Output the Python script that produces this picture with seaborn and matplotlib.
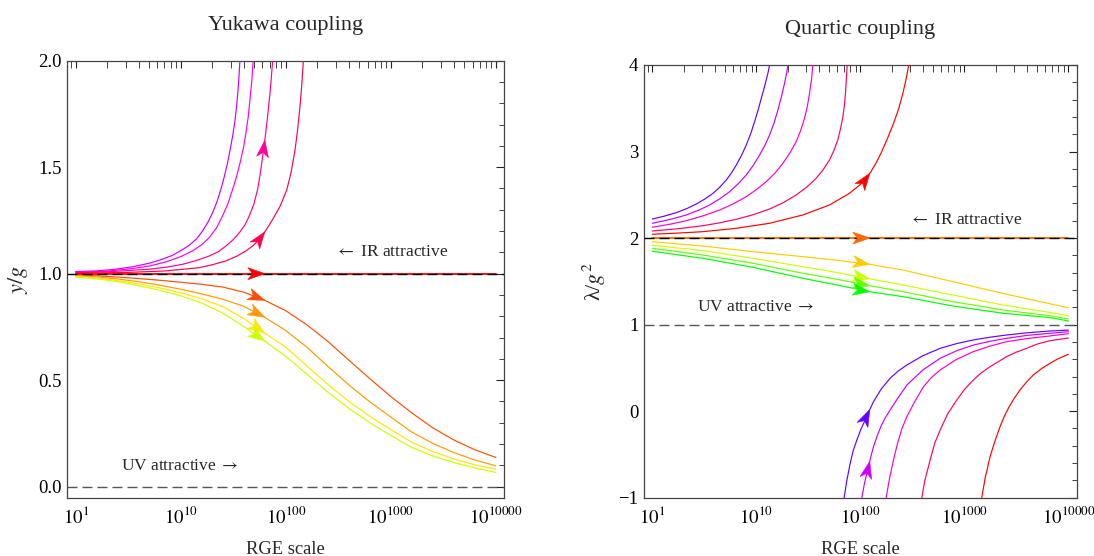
import numpy as np
import pandas as pd
import matplotlib
matplotlib.use('Agg')
import matplotlib.pyplot as plt
import matplotlib.ticker as mticker
from matplotlib.patches import Polygon
import seaborn as sns

# x values: t = log10(n) where the RGE scale is 10^n  (so 10^1 -> 0, 10^10000 -> 4)
scale_ticks = [0, 1, 2, 3, 4]
scale_labels = [r'$10^{1}$', r'$10^{10}$', r'$10^{100}$', r'$10^{1000}$', r'$10^{10000}$']

# ---- Yukawa coupling  y/g ----
yuk_a_x = [0, .2, .381, .55, .699, .82, .921, 1.0, 1.080, 1.15, 1.207, 1.26, 1.303, 1.345,
           1.382, 1.415, 1.446, 1.47, 1.494, 1.515, 1.532, 1.55, 1.563]
yuk_a_y = [1.010, 1.013, 1.021, 1.033, 1.049, 1.067, 1.086, 1.108, 1.133, 1.163, 1.200, 1.243,
           1.286, 1.338, 1.396, 1.456, 1.521, 1.582, 1.646, 1.715, 1.787, 1.89, 2.0]
yuk_b_x = [0, .3, .540, .72, .858, 1.0, 1.112, 1.2, 1.271, 1.34, 1.398, 1.45, 1.494, 1.535,
           1.573, 1.60, 1.621, 1.642, 1.659, 1.676, 1.690]
yuk_b_y = [1.007, 1.012, 1.024, 1.038, 1.055, 1.080, 1.107, 1.136, 1.169, 1.215, 1.271, 1.330,
           1.396, 1.462, 1.537, 1.600, 1.662, 1.735, 1.819, 1.905, 2.0]
yuk_c_x = [0, .35, .699, .87, 1.017, 1.15, 1.271, 1.36, 1.430, 1.5, 1.557, 1.61, 1.652, 1.695,
           1.732, 1.757, 1.780, 1.805, 1.827, 1.852, 1.875]
yuk_c_y = [1.004, 1.010, 1.021, 1.031, 1.044, 1.062, 1.083, 1.104, 1.130, 1.160, 1.192, 1.228,
           1.271, 1.325, 1.396, 1.470, 1.553, 1.645, 1.740, 1.86, 2.0]
yuk_d_x = [0, .5, .858, 1.175, 1.3, 1.430, 1.53, 1.621, 1.69, 1.748, 1.81, 1.875, 1.945, 2.009,
           2.05, 2.088, 2.112, 2.135, 2.152, 2.167]
yuk_d_y = [1.002, 1.006, 1.013, 1.028, 1.042, 1.060, 1.081, 1.107, 1.132, 1.161, 1.203, 1.255,
           1.316, 1.393, 1.475, 1.581, 1.675, 1.784, 1.885, 2.0]
yuk_fix_x = [0, 4]
yuk_fix_y = [1.0, 1.0]
yuk_low_x = [0, .2, .4, .6, .8, 1.0, 1.2, 1.4, 1.6, 1.8, 2.0, 2.2, 2.4, 2.6, 2.8, 3.0, 3.2,
             3.4, 3.6, 3.8, 4.0]
yuk_e_y = [.994, .990, .984, .977, .969, .960, .950, .937, .913, .875, .826, .760, .682, .594,
           .507, .423, .346, .276, .219, .173, .137]
yuk_f_y = [.990, .985, .975, .962, .946, .927, .905, .880, .847, .795, .733, .655, .565, .478,
           .398, .327, .256, .203, .160, .125, .098]
yuk_g_y = [.987, .980, .968, .952, .933, .910, .882, .845, .790, .720, .655, .567, .480, .400,
           .330, .268, .208, .165, .130, .102, .082]
yuk_h_y = [.984, .976, .962, .944, .922, .896, .862, .815, .752, .683, .612, .528, .444, .368,
           .300, .240, .184, .144, .113, .088, .067]

# ---- Quartic coupling  lambda/g^2 ----
qua_u1_x = [0, .12, .231, .33, .423, .505, .583, .65, .711, .76, .807, .857, .903, .945, .983,
            1.017, 1.047, 1.072, 1.095, 1.112, 1.127]
qua_u1_y = [2.220, 2.255, 2.294, 2.340, 2.394, 2.452, 2.517, 2.590, 2.671, 2.752, 2.844, 2.955,
            3.076, 3.205, 3.345, 3.48, 3.615, 3.72, 3.827, 3.91, 4.0]
qua_u2_x = [0, .17, .327, .45, .551, .65, .743, .825, .903, .97, 1.031, 1.082, 1.127, 1.17,
            1.207, 1.24, 1.271, 1.29, 1.303]
qua_u2_y = [2.171, 2.215, 2.267, 2.325, 2.382, 2.455, 2.536, 2.628, 2.729, 2.840, 2.960, 3.072,
            3.191, 3.33, 3.480, 3.63, 3.788, 3.9, 4.0]
qua_u3_x = [0, .17, .327, .49, .647, .78, .903, 1.0, 1.095, 1.18, 1.255, 1.323, 1.383, 1.425,
            1.463, 1.49, 1.511, 1.53, 1.543]
qua_u3_y = [2.125, 2.160, 2.201, 2.258, 2.324, 2.397, 2.478, 2.560, 2.652, 2.752, 2.864, 2.985,
            3.114, 3.24, 3.384, 3.52, 3.673, 3.83, 4.0]
qua_u4_x = [0, .25, .487, .65, .807, .97, 1.127, 1.26, 1.383, 1.485, 1.575, 1.645, 1.703, 1.747,
            1.783, 1.81, 1.832, 1.846, 1.857, 1.873]
qua_u4_y = [2.082, 2.108, 2.143, 2.177, 2.217, 2.270, 2.336, 2.410, 2.498, 2.590, 2.691, 2.795,
            2.902, 3.015, 3.133, 3.27, 3.403, 3.53, 3.673, 4.0]
qua_u5_x = [0, .25, .487, .807, 1.127, 1.447, 1.703, 1.895, 2.0, 2.056, 2.10, 2.152, 2.20, 2.26,
            2.319, 2.37, 2.41, 2.44, 2.465]
qua_u5_y = [2.044, 2.058, 2.074, 2.113, 2.171, 2.267, 2.382, 2.517, 2.620, 2.691, 2.765, 2.870,
            2.985, 3.15, 3.326, 3.50, 3.68, 3.84, 4.0]
qua_fix_x = [0, 4]
qua_fix_y = [2.0, 2.0]
qua_mid_x = [0, .487, .967, 1.447, 1.767, 2.087, 2.408, 2.889, 3.369, 3.833, 4.0]
qua_m1_y = [1.958, 1.908, 1.843, 1.785, 1.745, 1.697, 1.631, 1.496, 1.361, 1.238, 1.196]
qua_m2_y = [1.917, 1.855, 1.766, 1.669, 1.603, 1.530, 1.458, 1.342, 1.227, 1.138, 1.103]
qua_m3_y = [1.882, 1.804, 1.708, 1.593, 1.525, 1.450, 1.381, 1.265, 1.169, 1.100, 1.065]
qua_m4_y = [1.847, 1.766, 1.662, 1.535, 1.460, 1.380, 1.323, 1.215, 1.131, 1.080, 1.042]
qua_l1_x = [1.844, 1.87, 1.902, 1.93, 1.966, 2.005, 2.046, 2.085, 2.126, 2.2, 2.286, 2.36, 2.447,
            2.6, 2.767, 2.93, 3.087, 3.25, 3.407, 3.6, 3.823, 4.0]
qua_l1_y = [-1.0, -0.80, -0.603, -0.46, -0.334, -0.21, -0.103, 0.005, 0.109, 0.255, 0.380, 0.460,
            0.533, 0.640, 0.726, 0.782, 0.823, 0.855, 0.880, 0.905, 0.926, 0.937]
qua_l2_x = [2.014, 2.04, 2.078, 2.10, 2.126, 2.16, 2.2, 2.24, 2.286, 2.36, 2.447, 2.6, 2.767,
            2.93, 3.087, 3.25, 3.407, 3.6, 3.823, 4.0]
qua_l2_y = [-1.0, -0.83, -0.642, -0.53, -0.411, -0.29, -0.17, -0.075, 0.013, 0.150, 0.302, 0.475,
            0.611, 0.700, 0.764, 0.808, 0.842, 0.875, 0.900, 0.918]
qua_l3_x = [2.248, 2.28, 2.318, 2.36, 2.40, 2.447, 2.52, 2.607, 2.68, 2.767, 2.92, 3.087, 3.25,
            3.407, 3.6, 3.823, 4.0]
qua_l3_y = [-1.0, -0.78, -0.564, -0.36, -0.20, -0.064, 0.105, 0.283, 0.385, 0.476, 0.595, 0.688,
            0.753, 0.803, 0.838, 0.869, 0.895]
qua_l4_x = [2.591, 2.62, 2.671, 2.715, 2.767, 2.84, 2.927, 3.0, 3.087, 3.16, 3.247, 3.407, 3.5,
            3.599, 3.7, 3.823, 4.0]
qua_l4_y = [-1.0, -0.80, -0.564, -0.37, -0.218, -0.030, 0.129, 0.250, 0.360, 0.440, 0.514, 0.630,
            0.682, 0.726, 0.775, 0.814, 0.845]
qua_l5_x = [3.167, 3.20, 3.247, 3.29, 3.343, 3.38, 3.423, 3.48, 3.535, 3.6, 3.663, 3.74, 3.823,
            3.9, 4.0]
qua_l5_y = [-1.0, -0.77, -0.526, -0.36, -0.179, -0.07, 0.034, 0.150, 0.245, 0.340, 0.418, 0.490,
            0.553, 0.605, 0.657]

yuk_curves = {
    'A': (yuk_a_x, yuk_a_y), 'B': (yuk_b_x, yuk_b_y),
    'C': (yuk_c_x, yuk_c_y), 'D': (yuk_d_x, yuk_d_y),
    'E': (yuk_low_x, yuk_e_y), 'F': (yuk_low_x, yuk_f_y),
    'G': (yuk_low_x, yuk_g_y), 'H': (yuk_low_x, yuk_h_y),
}
yuk_colors = {'A': '#CC00FF', 'B': '#FF00E6', 'C': '#FF0099', 'D': '#FF004D',
              'E': '#FF4D00', 'F': '#FF9900', 'G': '#FFE600', 'H': '#CCFF00'}
qua_curves = {
    'U1': (qua_u1_x, qua_u1_y), 'U2': (qua_u2_x, qua_u2_y), 'U3': (qua_u3_x, qua_u3_y),
    'U4': (qua_u4_x, qua_u4_y), 'U5': (qua_u5_x, qua_u5_y),
    'M1': (qua_mid_x, qua_m1_y), 'M2': (qua_mid_x, qua_m2_y),
    'M3': (qua_mid_x, qua_m3_y), 'M4': (qua_mid_x, qua_m4_y),
    'L1': (qua_l1_x, qua_l1_y), 'L2': (qua_l2_x, qua_l2_y), 'L3': (qua_l3_x, qua_l3_y),
    'L4': (qua_l4_x, qua_l4_y), 'L5': (qua_l5_x, qua_l5_y),
}
qua_colors = {'U1': '#6600FF', 'U2': '#CC00FF', 'U3': '#FF00CC', 'U4': '#FF0066', 'U5': '#FF0000',
              'M1': '#FFCC00', 'M2': '#CCFF00', 'M3': '#66FF00', 'M4': '#00FF00',
              'L1': '#6600FF', 'L2': '#CC00FF', 'L3': '#FF00CC', 'L4': '#FF0066', 'L5': '#FF0000'}

sns.set_style('white')
plt.rcParams['font.family'] = ['Liberation Serif', 'DejaVu Serif']
plt.rcParams['mathtext.fontset'] = 'stix'

XLIM = (-0.08, 4.08)
DASH = (0, (7.2, 3.6))
# minor ticks sit where a plain log axis of n would put them
minor_n = [0.9] + [m * 10 ** k for k in range(4) for m in range(2, 10)]


def add_arrow(ax, xs, ys, at, color, length=17, width=12):
    xs = np.asarray(xs, float)
    ys = np.asarray(ys, float)
    if at <= xs[0] or at >= xs[-1]:
        return
    pts = ax.transData.transform(np.column_stack([xs, ys]))
    i = np.searchsorted(xs, at)
    f = (at - xs[i - 1]) / (xs[i] - xs[i - 1])
    tip = pts[i - 1] + f * (pts[i] - pts[i - 1])
    d = pts[i] - pts[i - 1]
    d = d / np.hypot(*d)
    nrm = np.array([-d[1], d[0]])
    verts = [tip, tip - length * d + width / 2 * nrm, tip - 0.72 * length * d,
             tip - length * d - width / 2 * nrm]
    verts = ax.transData.inverted().transform(np.array(verts))
    ax.add_patch(Polygon(verts, closed=True, fc=color, ec=color, lw=0.4, zorder=6))


def draw_panel(ax, curves, colors, fix, fix_color, fix_val, ref_val, ylim, arrow_at,
               title, ylabel, ir_pos, uv_pos, label_x):
    ax.set_xlim(XLIM)
    ax.set_ylim(ylim)
    frames = []
    for name, (xs, ys) in curves.items():
        frames.append(pd.DataFrame({'t': xs, 'val': ys, 'curve': name}))
    df = pd.concat(frames, ignore_index=True)
    sns.lineplot(data=df, x='t', y='val', hue='curve', palette=colors, sort=False,
                 estimator=None, legend=False, lw=0.85, ax=ax, zorder=3)
    ax.axhline(ref_val, color='#555555', lw=1.0, ls=DASH, zorder=2)
    ax.plot(fix[0], fix[1], color=fix_color, lw=1.3, zorder=3)
    ax.axhline(fix_val, color='black', lw=1.0, ls=DASH, zorder=4)
    ax.set_xlim(XLIM)
    ax.set_ylim(ylim)

    for name, (xs, ys) in curves.items():
        add_arrow(ax, xs, ys, arrow_at, colors[name])
    add_arrow(ax, fix[0], fix[1], arrow_at, fix_color)

    ax.text(ir_pos[0], ir_pos[1], r'$\leftarrow$ IR attractive', fontsize=12.5,
            ha='left', va='center')
    ax.text(uv_pos[0], uv_pos[1], r'UV attractive $\rightarrow$', fontsize=12.5,
            ha='left', va='center')

    ax.set_xticks(scale_ticks, scale_labels)
    ax.xaxis.set_minor_locator(mticker.FixedLocator(np.log10(minor_n)))
    ax.tick_params(which='both', direction='in', top=True, right=True, colors='#222222',
                   labelcolor='black', labelsize=13.5)
    ax.tick_params(axis='x', which='major', length=5, width=0.8, pad=6)
    ax.tick_params(axis='x', which='minor', length=5, width=0.6)
    ax.tick_params(axis='y', which='major', length=6, width=0.8, pad=4)
    ax.tick_params(axis='y', which='minor', length=3.5, width=0.6)
    for s in ax.spines.values():
        s.set_color('#444444')
        s.set_linewidth(0.9)

    ax.set_title(title, fontsize=16, pad=22)
    ax.set_xlabel('RGE scale', fontsize=13.3)
    ax.xaxis.set_label_coords(0.5, label_x[1])
    ax.xaxis.label.set_verticalalignment('center')
    ax.set_ylabel(ylabel, fontsize=16)
    ax.yaxis.set_label_coords(label_x[0], 0.5)
    ax.yaxis.label.set_verticalalignment('center')


fig = plt.figure(figsize=(10.94, 5.56), dpi=100)
ax1 = fig.add_axes([0.0615, 0.1049, 0.3995, 0.786])
ax2 = fig.add_axes([0.5887, 0.1049, 0.3955, 0.7782])

ax1.yaxis.set_major_locator(mticker.MultipleLocator(0.5))
ax1.yaxis.set_minor_locator(mticker.MultipleLocator(0.1))
ax1.yaxis.set_major_formatter(mticker.FormatStrFormatter('%.1f'))
draw_panel(ax1, yuk_curves, yuk_colors, (yuk_fix_x, yuk_fix_y), '#FF0000', 1.0, 0.0,
           (-0.0516, 2.0), 1.80, 'Yukawa coupling', r'$y/g$', (2.469, 1.10), (0.436, 0.099),
           (-0.113, -0.118))

ax2.yaxis.set_major_locator(mticker.MultipleLocator(1))
ax2.yaxis.set_minor_locator(mticker.MultipleLocator(0.2))
draw_panel(ax2, qua_curves, qua_colors, (qua_fix_x, qua_fix_y), '#FF6600', 2.0, 1.0,
           (-1, 4), 2.09, 'Quartic coupling', '\u03bb/$g^{2}$', (2.469, 2.209), (0.432, 1.207),
           (-0.114, -0.119))

fig.savefig('out.png', dpi=100)
